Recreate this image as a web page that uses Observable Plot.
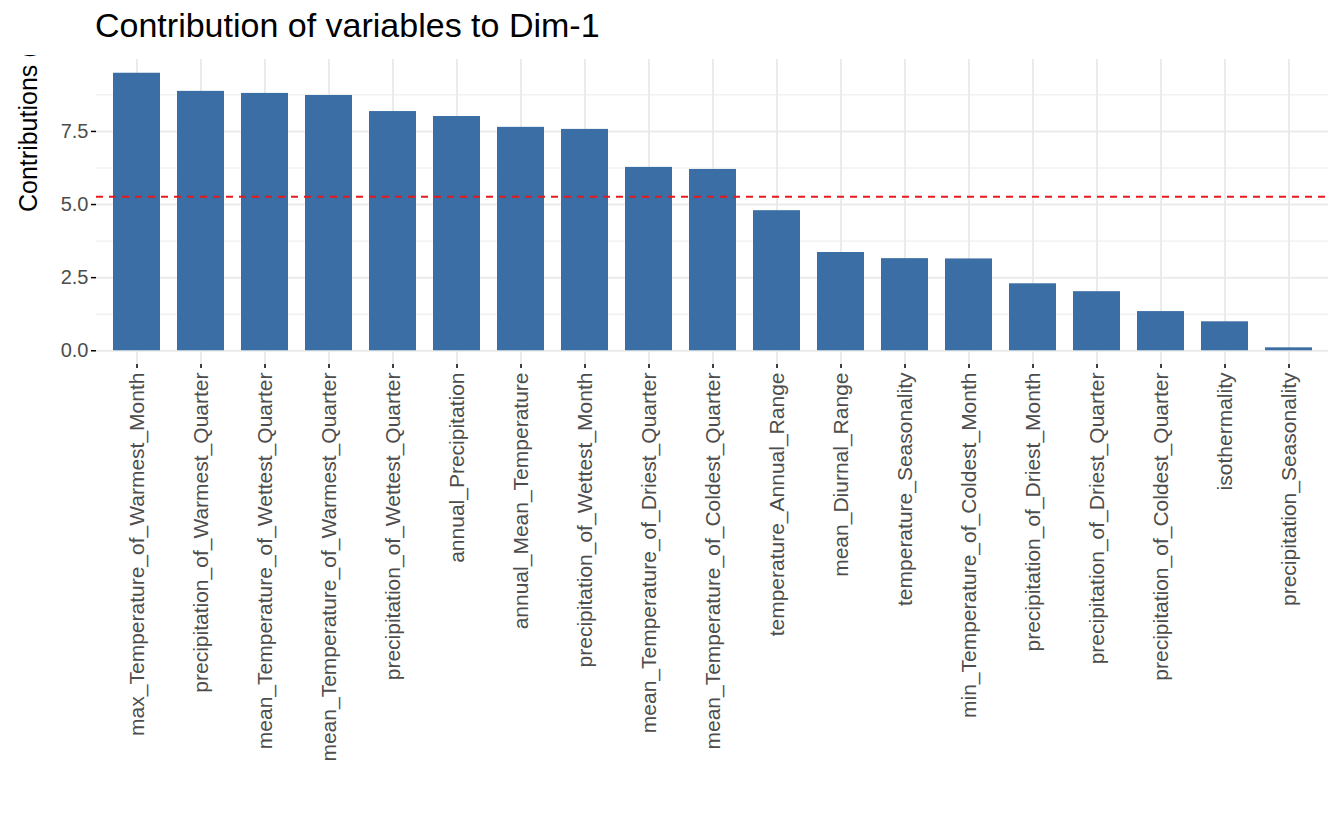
<!DOCTYPE html>
<html><head>
<script src="https://cdn.jsdelivr.net/npm/d3@7"></script>
<script src="https://cdn.jsdelivr.net/npm/@observablehq/plot@0.6"></script>
<style>
body{margin:0;background:#fff;font-family:"Liberation Sans",Arial,sans-serif}
#title{height:55px;box-sizing:border-box;padding:5px 0 0 95px;font-size:34px;color:#000;line-height:40px}
</style>
</head><body>
<div id="title">Contribution of variables to Dim-1</div>
<div id="chart"></div>
<script>
const variables = ["max_Temperature_of_Warmest_Month","precipitation_of_Warmest_Quarter","mean_Temperature_of_Wettest_Quarter","mean_Temperature_of_Warmest_Quarter","precipitation_of_Wettest_Quarter","annual_Precipitation","annual_Mean_Temperature","precipitation_of_Wettest_Month","mean_Temperature_of_Driest_Quarter","mean_Temperature_of_Coldest_Quarter","temperature_Annual_Range","mean_Diurnal_Range","temperature_Seasonality","min_Temperature_of_Coldest_Month","precipitation_of_Driest_Month","precipitation_of_Driest_Quarter","precipitation_of_Coldest_Quarter","isothermality","precipitation_Seasonality"];
const contrib = [9.49,8.87,8.80,8.73,8.18,8.01,7.64,7.57,6.27,6.20,4.79,3.36,3.15,3.14,2.29,2.02,1.34,0.99,0.10];
const yTicks = [0,2.5,5,7.5];
const yMinor = [1.25,3.75,6.25,8.75];
const expected = 100 / variables.length;

const data = variables.map((v,i) => ({name:v, value:contrib[i]}));

const chart = Plot.plot({
  width: 1344,
  height: 770,
  marginTop: 4,
  marginLeft: 96,
  marginRight: 16,
  marginBottom: 461,
  x: {domain: variables, paddingInner: 0.27, paddingOuter: 0.235, label: null},
  y: {domain: [-0.47, 9.96], label: null},
  style: {fontFamily: "Liberation Sans, Arial, sans-serif", color: "#4d4d4d"},
  marks: [
    Plot.ruleY(yMinor, {stroke: "#ebebeb", strokeWidth: 1}),
    Plot.ruleY(yTicks, {stroke: "#ebebeb", strokeWidth: 2}),
    Plot.ruleX(variables, {stroke: "#ebebeb", strokeWidth: 2}),
    Plot.barY(data, {x: "name", y: "value", fill: "#3a6ea5"}),
    Plot.ruleY([expected], {stroke: "#e41a1c", strokeWidth: 2, strokeDasharray: "7,6"}),
    Plot.axisX({tickRotate: -90, tickSize: 4, tickPadding: 4, stroke: "#000", fontSize: 21, fill: "#4d4d4d", strokeWidth: 1.5}),
    Plot.axisY({ticks: yTicks, tickFormat: d3.format(".1f"), tickSize: 5, tickPadding: 3, fontSize: 20, fill: "#4d4d4d", stroke: "#000", strokeWidth: 1.5, label: null}),
    Plot.text(["Contributions (%)"], {frameAnchor: "left", dx: -68, rotate: -90, fontSize: 25, fill: "#000"})
  ]
});
d3.select('#chart').append(() => chart);
</script>
</body></html>
